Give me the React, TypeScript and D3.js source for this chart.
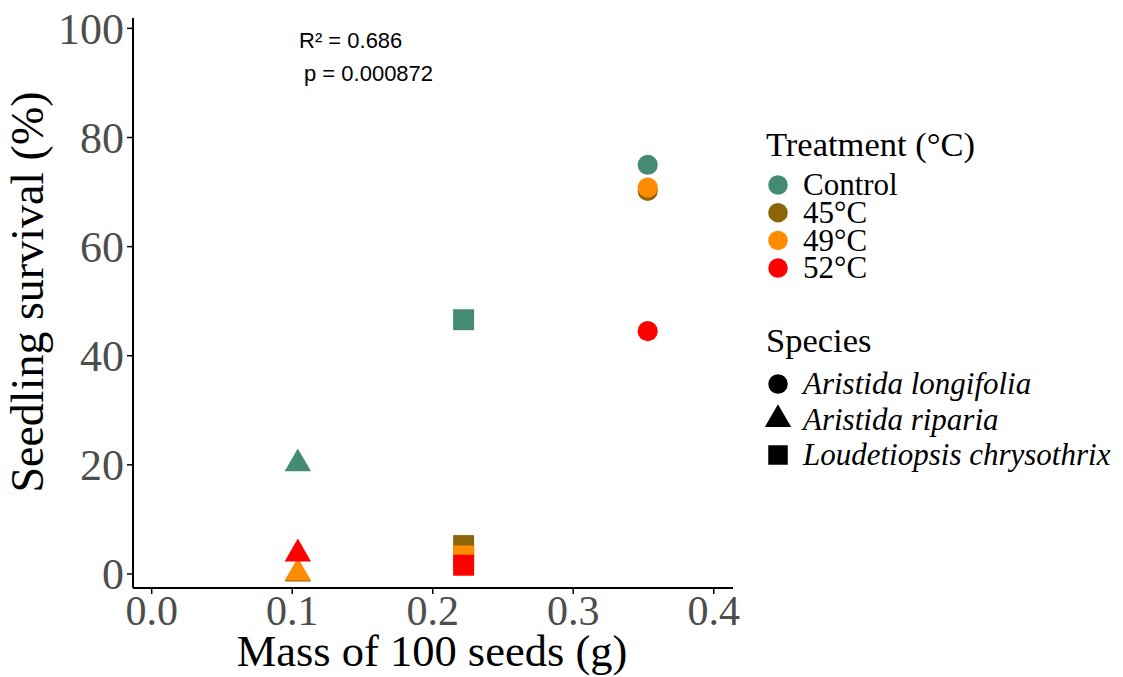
import * as d3 from "d3"

const treatments = ["Control", "45°C", "49°C", "52°C"]
const treatmentColors = ["#458B74", "#8B6508", "#FF8C00", "#FF0000"]
const species = ["Aristida longifolia", "Aristida riparia", "Loudetiopsis chrysothrix"]
const speciesMass = [0.353, 0.104, 0.222]

// survival per species, in treatment order
const survivalLongifolia = [75.0, 70.2, 70.8, 44.5]
const survivalRiparia = [20.2, 0, 0.2, 3.7]
const survivalLoudetiopsis = [46.6, 5.2, 3.3, 1.6]

const xTicks = [0.0, 0.1, 0.2, 0.3, 0.4]
const yTicks = [0, 20, 40, 60, 80, 100]
const statLines = ["R² = 0.686", "p = 0.000872"]

const symbolTypes = [d3.symbolCircle, d3.symbolTriangle, d3.symbolSquare]
const symbolSizes = [320, 300, 440]

export default function App() {
  const width = 1123
  const height = 677
  const margin = {left: 133, right: 390, top: 18, bottom: 89}
  const x = d3
    .scaleLinear()
    .domain([-0.0133, 0.4137])
    .range([margin.left, width - margin.right])
  const y = d3
    .scaleLinear()
    .domain([-2.57, 101.9])
    .range([height - margin.bottom, margin.top])

  const survival = [survivalLongifolia, survivalRiparia, survivalLoudetiopsis]
  const points = species.flatMap((s, si) =>
    treatments.map((t, ti) => ({si, ti, mass: speciesMass[si], value: survival[si][ti]}))
  )

  const sym = (si: number, size?: number) =>
    d3.symbol().type(symbolTypes[si]).size(size ?? symbolSizes[si])()!

  const tickColor = "#4D4D4D"
  const serif = "'Liberation Serif', 'Times New Roman', serif"
  const sans = "'Liberation Sans', Arial, sans-serif"
  const x0 = margin.left
  const yb = height - margin.bottom

  return (
    <svg width={width} height={height} style={{position: "absolute", left: 0, top: 0, background: "#fff"}}>
      {/* points */}
      {points.map((p, i) => (
        <path
          key={i}
          d={sym(p.si)}
          transform={`translate(${x(p.mass)},${y(p.value)})`}
          fill={treatmentColors[p.ti]}
        />
      ))}

      {/* axes */}
      <line x1={x0} x2={x0} y1={margin.top} y2={yb} stroke="#000" strokeWidth={2} />
      <line x1={x0} x2={width - margin.right} y1={yb} y2={yb} stroke="#000" strokeWidth={2} />
      {yTicks.map((t) => (
        <g key={t}>
          <line x1={x0 - 6} x2={x0} y1={y(t)} y2={y(t)} stroke="#000" strokeWidth={1.5} />
          <text
            x={x0 - 9}
            y={y(t)}
            dy="0.35em"
            textAnchor="end"
            fontFamily={serif}
            fontSize={44}
            fill={tickColor}
          >
            {t}
          </text>
        </g>
      ))}
      {xTicks.map((t) => (
        <g key={t}>
          <line x1={x(t)} x2={x(t)} y1={yb} y2={yb + 6} stroke="#000" strokeWidth={1.5} />
          <text
            x={x(t)}
            y={yb + 37}
            textAnchor="middle"
            fontFamily={serif}
            fontSize={42}
            fill={tickColor}
          >
            {t.toFixed(1)}
          </text>
        </g>
      ))}
      <text x={432} y={666} textAnchor="middle" fontFamily={serif} fontSize={44.5} fill="#000">
        Mass of 100 seeds (g)
      </text>
      <text
        transform="translate(43,292) rotate(-90)"
        textAnchor="middle"
        fontFamily={serif}
        fontSize={46}
        fill="#000"
      >
        Seedling survival (%)
      </text>

      {/* stats */}
      <text x={299} y={48} fontFamily={sans} fontSize={22} fill="#000">
        {statLines[0]}
      </text>
      <text x={304} y={81} fontFamily={sans} fontSize={22} fill="#000">
        {statLines[1]}
      </text>

      {/* legend: treatment */}
      <text x={766} y={156} fontFamily={serif} fontSize={34.5} fill="#000">
        Treatment (°C)
      </text>
      {treatments.map((t, i) => (
        <g key={t} transform={`translate(778,${185 + i * 27.7})`}>
          <path d={sym(0, 300)} fill={treatmentColors[i]} />
          <text x={25} dy="0.33em" fontFamily={serif} fontSize={31} fill="#000">
            {t}
          </text>
        </g>
      ))}

      {/* legend: species */}
      <text x={766} y={352} fontFamily={serif} fontSize={34.5} fill="#000">
        Species
      </text>
      {species.map((s, i) => (
        <g key={s} transform={`translate(778,${384 + i * 35.5})`}>
          <path d={sym(i, i === 2 ? 380 : 300)} fill="#000" />
          <text x={25} dy="0.33em" fontFamily={serif} fontSize={31} fontStyle="italic" fill="#000">
            {s}
          </text>
        </g>
      ))}
    </svg>
  )
}
